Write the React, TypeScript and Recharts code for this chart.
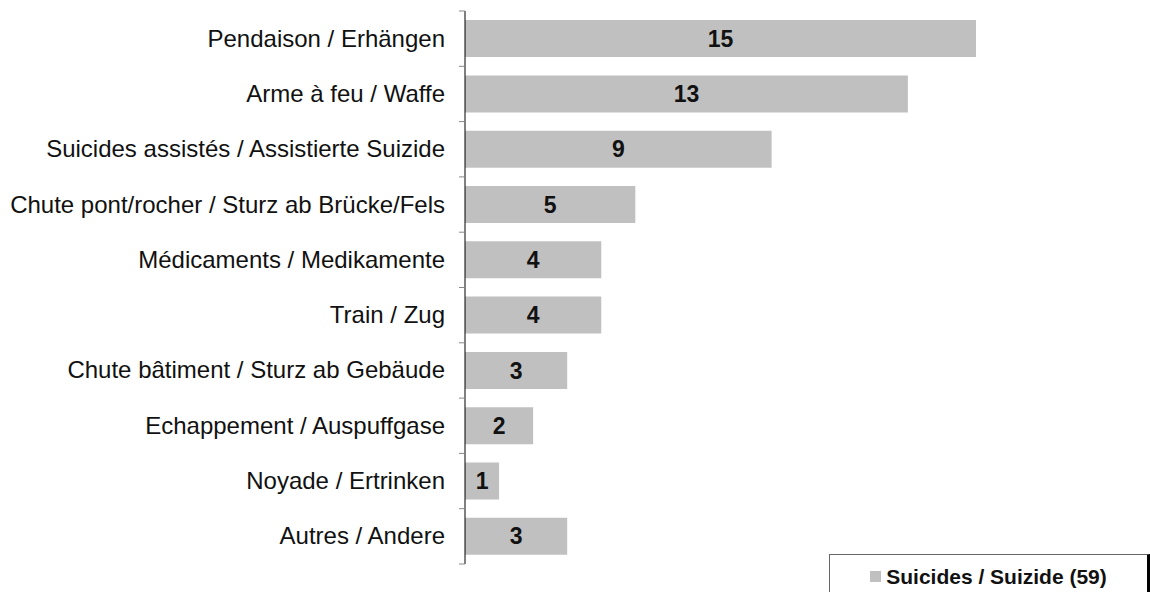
import React from "react";
import { BarChart, Bar, XAxis, YAxis, LabelList } from "recharts";

const categories = [
  "Pendaison / Erhängen",
  "Arme à feu / Waffe",
  "Suicides assistés / Assistierte Suizide",
  "Chute pont/rocher / Sturz ab Brücke/Fels",
  "Médicaments / Medikamente",
  "Train / Zug",
  "Chute bâtiment / Sturz ab Gebäude",
  "Echappement / Auspuffgase",
  "Noyade / Ertrinken",
  "Autres / Andere",
];
const suicides = [15, 13, 9, 5, 4, 4, 3, 2, 1, 3];
const seriesName = "Suicides / Suizide (59)";

const data = categories.map((name, i) => ({ name, value: suicides[i] }));

const FONT = "Liberation Sans, Arial, sans-serif";

function CategoryTick(props: any) {
  const { x, y, payload, index } = props;
  const half = payload?.offset ?? 27.65;
  const axisX = x + 20;
  return (
    <g>
      <line x1={axisX - 6} x2={axisX} y1={y - half} y2={y - half} stroke="#888" />
      {index === categories.length - 1 && (
        <line x1={axisX - 6} x2={axisX} y1={y + half} y2={y + half} stroke="#888" />
      )}
      <text x={x} y={y} dy={8} textAnchor="end" fontSize={24} fill="#111" fontFamily={FONT}>
        {payload.value}
      </text>
    </g>
  );
}

function LegendBox() {
  return (
    <div
      style={{
        position: "absolute",
        left: 829,
        top: 554,
        width: 321,
        height: 42,
        borderTop: "1px solid #666",
        borderLeft: "1px solid #666",
        borderRight: "3px solid #000",
        display: "flex",
        alignItems: "center",
        justifyContent: "center",
        fontFamily: FONT,
        fontWeight: "bold",
        fontSize: 21,
        color: "#111",
        boxSizing: "border-box",
        paddingTop: 2,
      }}
    >
      <span style={{ width: 11, height: 11, background: "#c0c0c0", marginRight: 5, display: "inline-block" }} />
      {seriesName}
    </div>
  );
}

export default function App() {
  return (
    <div style={{ position: "absolute", left: 0, top: 0, width: 1150, height: 592, background: "#fff", overflow: "hidden" }}>
      <BarChart
        width={1150}
        height={592}
        data={data}
        layout="vertical"
        barCategoryGap="16.5%"
        margin={{ top: 11, right: 174, bottom: 28, left: 0 }}
      >
        <XAxis type="number" domain={[0, 15]} hide />
        <YAxis
          type="category"
          dataKey="name"
          width={465}
          axisLine={{ stroke: "#000" }}
          tickLine={false}
          tickSize={6}
          tickMargin={14}
          interval={0}
          tick={<CategoryTick />}
        />
        <Bar dataKey="value" name={seriesName} fill="#c0c0c0" isAnimationActive={false}>
          <LabelList
            dataKey="value"
            position="center"
            fill="#111"
            fontSize={23}
            fontWeight="bold"
            fontFamily={FONT}
          />
        </Bar>
      </BarChart>
      <LegendBox />
    </div>
  );
}
